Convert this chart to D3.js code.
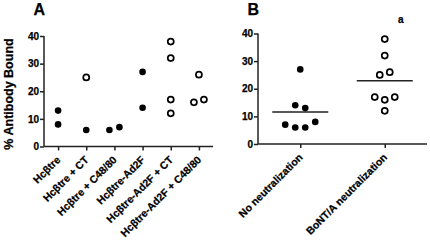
<!DOCTYPE html>
<html><head><meta charset="utf-8">
<script src="https://cdn.jsdelivr.net/npm/d3@7"></script>
<style>
html,body{margin:0;padding:0;background:#fff;}
svg{display:block;font-family:Arial,"Liberation Sans",sans-serif;}
</style></head>
<body>
<svg id="c" width="430" height="241"></svg>
<script>
const catsA = ["Hcβtre","Hcβtre + CT","Hcβtre + C48/80","Hcβtre-Ad2F","Hcβtre-Ad2F + CT","Hcβtre-Ad2F + C48/80"];
const filledA = [[13,8],[6],[6,7],[27,14],[],[]];
const openA = [[],[25],[],[],[38,32,17,12],[26,16,17]];
const catsB = ["No neutralization","BoNT/A neutralization"];
const filledB = [27,14,13,7,6,6,8];
const openB = [38,32,25,26,17,16,17,12];
const yTicks = [0,10,20,30,40];
const yLabel = "% Antibody Bound";

const svg = d3.select("#c");
const ink = "#000";

function dodge(vals, y, step, minGap){
  const idx = vals.map((v,i)=>i).sort((a,b)=>vals[a]-vals[b]);
  const clusters = [];
  let cur = [];
  idx.forEach(i=>{
    if(cur.length && Math.abs(y(vals[i]) - y(vals[cur[cur.length-1]])) >= minGap){ clusters.push(cur); cur=[]; }
    cur.push(i);
  });
  if(cur.length) clusters.push(cur);
  const off = new Array(vals.length).fill(0);
  clusters.forEach(cl=>{
    cl.sort((a,b)=>a-b);
    cl.forEach((i,k)=>{ off[i] = (k-(cl.length-1)/2)*step; });
  });
  return off;
}

function boldText(sel){
  return sel.attr("font-weight","bold").attr("fill",ink).attr("stroke",ink).attr("stroke-width",0.25);
}

function panel(cfg){
  const g = svg.append("g");
  const x = d3.scalePoint().domain(cfg.cats).range([cfg.x0,cfg.x1]).padding(0.5);
  const y = d3.scaleLinear().domain([0,40]).range([cfg.y0,cfg.y1]);
  const ya = g.append("g").attr("transform",`translate(${cfg.x0},0)`)
    .call(d3.axisLeft(y).tickValues(yTicks).tickSize(4).tickPadding(1).tickFormat(d3.format("d")));
  ya.select(".domain").attr("stroke","#222").attr("stroke-width",1.5).attr("d",`M0,${cfg.y0}V${cfg.y1}`);
  ya.selectAll(".tick line").attr("stroke","#222").attr("stroke-width",1.5);
  boldText(ya.selectAll("text").attr("font-size",10));
  const xa = g.append("g").attr("transform",`translate(0,${cfg.y0})`)
    .call(d3.axisBottom(x).tickSize(4).tickFormat(""));
  xa.select(".domain").attr("stroke","#222").attr("stroke-width",1.5).attr("d",`M${cfg.x0},0H${cfg.x1}`);
  xa.selectAll(".tick line").attr("stroke","#222").attr("stroke-width",1.5);
  boldText(g.append("g").selectAll("text").data(cfg.cats).join("text")
    .attr("transform",d=>`translate(${x(d)+3},${cfg.y0+14}) rotate(-45)`)
    .attr("text-anchor","end")
    .attr("font-size",10.5)
    .text(d=>d));
  boldText(g.append("text").attr("x",cfg.lx).attr("y",15).attr("font-size",16).text(cfg.letter));
  return {g,x,y};
}

function drawGroup(g, cx, vals, y, filled){
  const off = dodge(vals, y, 10, 8);
  g.append("g").selectAll("circle").data(vals).join("circle")
    .attr("cx",(d,i)=>cx+off[i]).attr("cy",d=>y(d))
    .attr("r",filled?3.3:3)
    .attr("fill",filled?ink:"#fff")
    .attr("stroke",ink).attr("stroke-width",filled?0:1.7);
}

const A = panel({cats:catsA,x0:44,x1:213,y0:146.5,y1:36,letter:"A",lx:33.5});
catsA.forEach((c,i)=>{
  if(filledA[i].length) drawGroup(A.g, A.x(c), filledA[i], A.y, true);
  if(openA[i].length) drawGroup(A.g, A.x(c), openA[i], A.y, false);
});

const B = panel({cats:catsB,x0:258,x1:427,y0:144,y1:33.5,letter:"B",lx:247.5});
drawGroup(B.g, B.x(catsB[0]), filledB, B.y, true);
drawGroup(B.g, B.x(catsB[1]), openB, B.y, false);
[[catsB[0],filledB],[catsB[1],openB]].forEach(([c,v])=>{
  const m = d3.mean(v);
  B.g.append("line").attr("x1",B.x(c)-28).attr("x2",B.x(c)+28)
    .attr("y1",B.y(m)).attr("y2",B.y(m)).attr("stroke","#222").attr("stroke-width",1.5);
});
boldText(B.g.append("text").attr("x",B.x(catsB[1])+16).attr("y",22.5).attr("text-anchor","middle")
  .attr("font-size",10).text("a"));

boldText(svg.append("text").attr("transform",`translate(12.5,94) rotate(-90)`).attr("text-anchor","middle")
  .attr("font-size",12.5).text(yLabel));
</script>
</body></html>
